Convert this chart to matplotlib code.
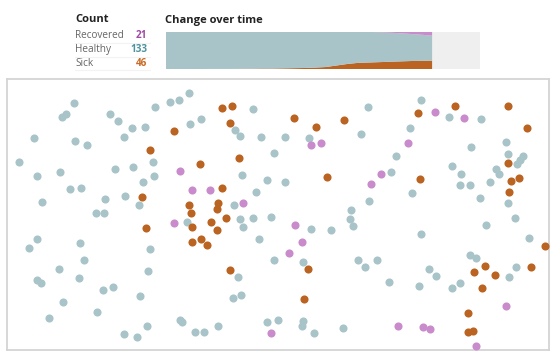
import numpy as np
import matplotlib
matplotlib.use("Agg")
import matplotlib.pyplot as plt

# counts shown in the legend
labels = ["Recovered", "Healthy", "Sick"]
counts = [21, 133, 46]

# change over time (people per step, 200 total)
steps = np.arange(26)
sick_t = [1, 1, 1, 1, 2, 2, 2, 3, 3, 4, 4, 5, 6, 7, 9, 12, 20, 28, 34, 36, 38, 40, 42, 44, 45, 46]
recovered_t = [0, 0, 0, 0, 0, 0, 0, 0, 0, 0, 0, 0, 0, 0, 0, 0, 0, 0, 0, 1, 3, 5, 8, 12, 16, 21]
total = 200
max_step = 29.5

# positions of the people in the box
healthy_x = [74.3, 65.7, 62, 34, 74.7, 86.7, 19.3, 36.7, 60, 70, 81, 42.3, 104.7, 96.3, 103.7,
             110.3, 117.7, 131.7, 145, 124, 155, 170.3, 179.3, 189.3, 190, 201, 114.7, 133, 153,
             153.7, 142.7, 125.3, 139.3, 253, 235.3, 240, 261, 274.3, 242.3, 267.3, 255.7, 234.3,
             284.7, 308.7, 368.3, 361.3, 285.3, 391, 396.3, 410.3, 420.7, 449.3, 481.3, 471.3, 506,
             507.7, 523, 520, 517, 496, 499.3, 451.7, 461, 460.3, 470, 490.3, 480, 508, 412.3, 368.7,
             351, 187.3, 240, 243, 252.7, 270.7, 259, 273.7, 238.3, 232.7, 241.3, 36.7, 29, 80, 83.7,
             58.7, 149.7, 147.7, 79.3, 37, 41, 102.7, 113.3, 63.3, 140.3, 96.7, 49.3, 180, 182, 147,
             124.3, 136.7, 194.7, 204, 218.3, 267.3, 278.3, 350.3, 352.7, 311.3, 331, 303.3, 303, 302,
             313.7, 343.3, 358, 365, 377.3, 388.7, 421.3, 429, 436, 419.3, 452.3, 460.3, 469.7, 476,
             486, 515, 529.3, 516.3, 508.7]
healthy_y = [103.3, 114, 117.3, 138.3, 141, 145, 162.3, 175.7, 171.7, 189.3, 187.7, 202.3, 199.3,
             212.7, 212.7, 114, 121, 128, 127.3, 136.7, 106.7, 101.7, 100.3, 92.7, 123.7, 118.7, 169,
             166.7, 161.7, 176.3, 181.7, 196.3, 205.3, 109, 130.3, 136.3, 137, 153, 175, 179.7, 192.3,
             204.7, 137, 138.3, 107, 133.7, 181.7, 171.7, 155.7, 127.7, 99.7, 116.7, 118.7, 147.3,
             141.7, 154, 156.3, 160, 163.7, 169.3, 174.3, 166.3, 173.7, 185.3, 184.7, 181.7, 198, 203,
             193, 200.7, 210, 221.7, 219.3, 227, 218.3, 216.7, 239, 260, 276.7, 298, 294.7, 239, 248,
             243.3, 260, 268.7, 249.3, 271.3, 277.7, 280.3, 283.3, 290, 287, 301.7, 296, 311.7, 317.7,
             319.7, 322, 325.7, 334.3, 336.7, 332.3, 332, 325.7, 322.3, 320, 219.3, 226.3, 229, 230,
             262, 321, 325.7, 333, 328.3, 259.7, 266.7, 260.3, 282, 234, 269, 275.7, 285.7, 288.3,
             282.7, 254.7, 258.3, 225.3, 218.3, 238.3, 266.7, 277]

sick_x = [173.7, 150.3, 141.7, 221.7, 231.7, 230, 200.3, 239.3, 222.3, 188.7, 218.3, 216.7, 191,
          294, 316, 344.3, 327.3, 418, 454.7, 507.7, 526.7, 507.7, 510.7, 519, 508.7, 420.3,
          146, 192.3, 211, 217, 225.7, 192, 201, 206.7, 230.3,
          308, 303.7, 473.7, 485, 495.3, 482, 545.3, 531.3, 468, 468, 472.7]
sick_y = [130.7, 150.3, 197.3, 107.7, 105.7, 123.3, 163.7, 158.3, 188.3, 204.7, 202.7, 208.7, 212.7,
          117.7, 127.3, 120.3, 177.3, 112.7, 106, 106, 128.3, 163, 181, 178, 192, 179,
          228.3, 226.7, 221.7, 230, 217.7, 241.7, 238.7, 244.7, 270,
          268.7, 299, 272.3, 265.7, 274.7, 287.7, 246.3, 267, 313.3, 331.7, 331.3]

recovered_x = [179.7, 192, 209.7, 243, 310.7, 320.7, 381, 371.3, 408, 434.7, 464, 174, 271.3,
               294.7, 302.3, 289, 505.7, 475.7, 398.3, 423.3, 430]
recovered_y = [171.3, 190, 190.3, 202.7, 145.3, 142.7, 174.3, 183.7, 143.3, 112.3, 117.7, 222.7, 333.3,
               225.3, 241.7, 253, 306.3, 346.3, 325.7, 327.3, 329.3]

c_healthy = "#a9c4c8"
c_sick = "#bb6320"
c_rec = "#c98bcb"
num_colors = ["#a04aa3", "#4e939c", "#c76b25"]

W, H = 560, 356
fig = plt.figure(figsize=(W / 100, H / 100), dpi=100)
fig.patch.set_facecolor("white")
plt.rcParams['font.family'] = ['Open Sans', 'DejaVu Sans']


def px(x, y):
    return x / W, 1 - y / H


# legend block
fig.text(*px(75, 20), "Count", fontsize=8, fontweight="bold", color="#222222", va="center")
row_y = [36, 49.5, 63]
for lab, n, col, yy in zip(labels, counts, num_colors, row_y):
    fig.text(*px(75, yy), lab, fontsize=7.2, color="#666666", va="center")
    fig.text(*px(147, yy), str(n), fontsize=7.2, fontweight="bold", color=col, va="center", ha="right")
    fig.add_artist(plt.Line2D([75 / W, 150 / W], [1 - (yy + 7) / H] * 2, color="#f3f3f3", lw=0.8))

# change over time
fig.text(*px(165, 20), "Change over time", fontsize=8, fontweight="bold", color="#222222", va="center")
ax_t = fig.add_axes([166 / W, 1 - 69.3 / H, (480 - 166) / W, 37.6 / H])
ax_t.set_facecolor("#efefef")
healthy_t = total - np.array(sick_t) - np.array(recovered_t)
ax_t.stackplot(steps, sick_t, healthy_t, recovered_t, colors=[c_sick, c_healthy, c_rec], lw=0)
ax_t.set_xlim(0, max_step)
ax_t.set_ylim(0, total)
ax_t.set_xticks([])
ax_t.set_yticks([])
for s in ax_t.spines.values():
    s.set_visible(False)

# the box with people
ax = fig.add_axes([7 / W, 1 - 350 / H, (549 - 7) / W, (350 - 79) / H])
ax.set_xlim(7, 549)
ax.set_ylim(350, 79)
ax.set_xticks([])
ax.set_yticks([])
for s in ax.spines.values():
    s.set_color("#d4d4d4")
    s.set_linewidth(1.3)
ax.scatter(healthy_x, healthy_y, s=34, color=c_healthy, lw=0, clip_on=False, zorder=3)
ax.scatter(recovered_x, recovered_y, s=34, color=c_rec, lw=0, clip_on=False, zorder=3)
ax.scatter(sick_x, sick_y, s=34, color=c_sick, lw=0, clip_on=False, zorder=3)

fig.savefig("out.png", dpi=100)
